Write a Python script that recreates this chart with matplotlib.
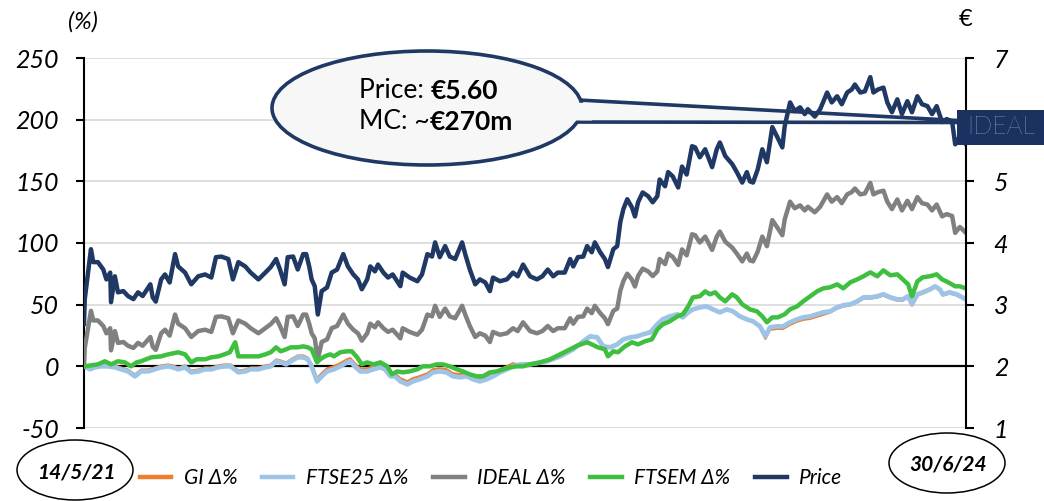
"""
IDEAL share price vs. indices, 14/5/21 - 30/6/24.
Left axis: % change (GI, FTSE25, IDEAL, FTSEM); right axis: price in EUR.
"""
import pandas as pd
import matplotlib
matplotlib.use("Agg")
import matplotlib.pyplot as plt
from matplotlib.lines import Line2D
from matplotlib.patches import Ellipse, Polygon, Rectangle

plt.rcParams["font.family"] = ["Lato", "DejaVu Sans"]
plt.rcParams["font.style"] = "italic"  # most chart text is italic

START = pd.Timestamp("2021-05-14")
END = pd.Timestamp("2024-06-30")

# ---- data (days since 14/5/21) ----
price_day = [0, 1, 9, 12, 18, 25, 29, 34, 35, 40, 44, 51, 57, 64, 70, 76, 86, 89, 93, 100,
             105, 111, 118, 122, 131, 139, 148, 157, 165, 171, 178, 187, 193, 200, 209, 216,
             226, 235, 242, 249, 254, 260, 264, 271, 277, 284, 288, 292, 295, 299, 303, 308,
             315, 321, 328, 336, 342, 349, 355, 360, 367, 371, 377, 381, 388, 394, 400, 410,
             413, 422, 432, 438, 445, 451, 455, 461, 468, 474, 481, 490, 494, 500, 507, 513,
             520, 526, 530, 539, 548, 556, 562, 569, 578, 587, 594, 601, 608, 614, 623, 630,
             634, 640, 647, 652, 658, 662, 669, 675, 679, 686, 691, 695, 699, 704, 710, 714,
             718, 724, 731, 737, 743, 746, 753, 757, 763, 770, 775, 781, 788, 792, 798, 805,
             814, 820, 824, 831, 840, 846, 853, 859, 863, 867, 873, 879, 885, 892, 898, 905,
             908, 915, 921, 928, 934, 938, 947, 954, 963, 969, 976, 982, 989, 995, 999, 1006,
             1012, 1019, 1023, 1029, 1036, 1041, 1047, 1054, 1060, 1067, 1073, 1080, 1086,
             1093, 1099, 1105, 1112, 1118, 1125, 1129, 1135, 1140, 1143]
price_eur = [2.69, 3.09, 3.90, 3.69, 3.69, 3.57, 3.41, 3.52, 3.04, 3.46, 3.20, 3.22, 3.14, 3.09,
             3.20, 3.14, 3.33, 3.12, 3.05, 3.41, 3.49, 3.36, 3.82, 3.62, 3.52, 3.33, 3.46, 3.49,
             3.44, 3.77, 3.78, 3.74, 3.41, 3.69, 3.62, 3.52, 3.41, 3.52, 3.61, 3.74, 3.57, 3.33,
             3.77, 3.78, 3.57, 3.82, 3.82, 3.61, 3.41, 3.30, 2.84, 3.22, 3.28, 3.52, 3.57, 3.82,
             3.62, 3.49, 3.41, 3.25, 3.41, 3.62, 3.54, 3.65, 3.52, 3.44, 3.49, 3.30, 3.52, 3.44,
             3.38, 3.49, 3.82, 3.78, 4.01, 3.77, 3.95, 3.78, 3.74, 4.01, 3.82, 3.57, 3.33, 3.41,
             3.36, 3.22, 3.44, 3.38, 3.41, 3.52, 3.46, 3.65, 3.46, 3.41, 3.46, 3.57, 3.46, 3.52,
             3.52, 3.74, 3.62, 3.77, 3.78, 3.95, 3.85, 4.01, 3.85, 3.74, 3.61, 3.90, 3.95, 4.34,
             4.55, 4.71, 4.58, 4.43, 4.66, 4.82, 4.76, 4.66, 4.76, 5.03, 4.92, 5.15, 5.08, 4.90,
             5.24, 5.11, 5.57, 5.55, 5.39, 5.52, 5.23, 5.52, 5.63, 5.41, 5.28, 5.15, 4.98, 5.15,
             5.00, 4.98, 5.19, 5.52, 5.31, 5.88, 5.73, 5.55, 5.89, 6.28, 6.14, 6.20, 6.09, 6.17,
             6.05, 6.17, 6.44, 6.28, 6.38, 6.25, 6.44, 6.49, 6.57, 6.44, 6.46, 6.69, 6.44, 6.49,
             6.52, 6.28, 6.12, 6.33, 6.09, 6.30, 6.12, 6.38, 6.25, 6.22, 6.09, 6.22, 5.96, 6.01,
             5.97, 5.60, 5.73, 5.65, 5.60]
ideal_pct = [0, 14.9, 45.0, 37.2, 37.2, 32.7, 26.8, 30.9, 13.0, 28.6, 19.0, 19.7, 16.7, 14.9,
             19.0, 16.7, 23.8, 16.0, 13.4, 26.8, 29.7, 24.9, 42.0, 34.6, 30.9, 23.8, 28.6, 29.7,
             27.9, 40.1, 40.5, 39.0, 26.8, 37.2, 34.6, 30.9, 26.8, 30.9, 34.2, 39.0, 32.7, 23.8,
             40.1, 40.5, 32.7, 42.0, 42.0, 34.2, 26.8, 22.7, 5.6, 19.7, 21.9, 30.9, 32.7, 42.0,
             34.6, 29.7, 26.8, 20.8, 26.8, 34.6, 31.6, 35.7, 30.9, 27.9, 29.7, 22.7, 30.9, 27.9,
             25.6, 29.7, 42.0, 40.5, 49.1, 40.1, 46.8, 40.5, 39.0, 49.1, 42.0, 32.7, 23.8, 26.8,
             24.9, 19.7, 27.9, 25.6, 26.8, 30.9, 28.6, 35.7, 28.6, 26.8, 28.6, 32.7, 28.6, 30.9,
             30.9, 39.0, 34.6, 40.1, 40.5, 46.8, 43.1, 49.1, 43.1, 39.0, 34.2, 45.0, 46.8, 61.3,
             69.1, 75.1, 70.3, 64.7, 73.2, 79.2, 77.0, 73.2, 77.0, 87.0, 82.9, 91.4, 88.8, 82.2,
             94.8, 90.0, 107.1, 106.3, 100.4, 105.2, 94.4, 105.2, 109.3, 101.1, 96.3, 91.4, 85.1,
             91.4, 85.9, 85.1, 92.9, 105.2, 97.4, 118.6, 113.0, 106.3, 119.0, 133.5, 128.2, 130.5,
             126.4, 129.4, 124.9, 129.4, 139.4, 133.5, 137.2, 132.3, 139.4, 141.3, 144.2, 139.4,
             140.2, 148.7, 139.4, 141.3, 142.4, 133.5, 127.5, 135.3, 126.4, 134.2, 127.5, 137.2,
             132.3, 131.2, 126.4, 131.2, 121.6, 123.4, 121.9, 108.2, 113.0, 110.0, 108.2]

ftsem_day = [0, 18, 27, 35, 44, 53, 61, 68, 74, 87, 100, 109, 122, 131, 139, 146, 157, 165, 174,
             182, 189, 196, 200, 209, 216, 226, 235, 242, 249, 255, 262, 268, 277, 284, 290, 295,
             302, 306, 312, 319, 324, 332, 341, 347, 354, 360, 367, 375, 384, 393, 399, 406, 413,
             422, 432, 439, 448, 457, 465, 474, 483, 491, 500, 509, 517, 526, 535, 543, 552, 561,
             569, 578, 591, 604, 617, 630, 640, 652, 658, 666, 675, 679, 686, 692, 701, 710, 718,
             727, 736, 743, 750, 759, 769, 776, 783, 789, 798, 805, 811, 818, 824, 831, 840, 846,
             853, 859, 863, 872, 879, 885, 892, 899, 908, 915, 924, 932, 941, 950, 958, 967, 976,
             984, 993, 1002, 1010, 1019, 1028, 1036, 1045, 1054, 1061, 1068, 1073, 1080, 1087,
             1096, 1105, 1112, 1120, 1129, 1135, 1143]
ftsem_pct = [0, 1.6, 4.1, 1.6, 4.1, 3.2, 0, 3.2, 4.1, 7.3, 8.1, 9.7, 11.4, 9.7, 3.2, 5.7, 5.7,
             7.3, 8.1, 9.7, 11.4, 19.5, 8.1, 8.1, 8.1, 8.1, 9.7, 11.4, 15.4, 12.2, 13.8, 15.4,
             15.4, 16.2, 15.4, 13.8, 3.2, 5.7, 8.1, 9.7, 8.1, 11.4, 12.2, 12.2, 7.3, 1.6, 3.2,
             1.6, 3.2, 0, -6.5, -4.1, -4.9, -4.1, -2.4, 0, 0, 1.6, 1.6, 0, -2.4, -4.1, -6.5, -8.1,
             -8.1, -4.9, -4.1, -2.4, -0.8, 0, 0, 1.6, 3.2, 5.7, 9.7, 13.8, 17.0, 19.5, 17.8, 15.4,
             13.8, 8.1, 12.2, 11.4, 16.2, 19.5, 17.8, 20.3, 21.9, 30.0, 34.1, 36.5, 40.5, 42.2,
             48.6, 55.9, 56.8, 60.8, 58.4, 60.0, 55.9, 52.7, 58.4, 55.9, 50.3, 47.8, 46.2, 44.6,
             40.5, 35.7, 39.7, 39.7, 42.2, 46.2, 48.6, 52.7, 56.8, 60.8, 63.2, 64.1, 66.5, 63.2,
             68.1, 70.5, 73.0, 76.2, 73.0, 77.8, 73.8, 74.6, 70.5, 66.5, 56.8, 68.9, 72.2, 73.0,
             74.6, 70.5, 68.1, 64.9, 64.9, 63.2]

ftse25_day = [0, 8, 14, 22, 31, 40, 48, 57, 66, 74, 83, 92, 100, 109, 115, 122, 131, 139, 148,
              157, 165, 174, 182, 190, 200, 209, 216, 226, 235, 242, 249, 255, 262, 268, 277, 284,
              290, 295, 302, 308, 315, 324, 332, 341, 345, 351, 358, 367, 375, 384, 390, 397, 403,
              410, 419, 426, 435, 445, 452, 461, 470, 478, 487, 496, 504, 513, 522, 530, 539, 548,
              556, 565, 578, 600, 617, 634, 647, 656, 665, 673, 682, 691, 699, 708, 717, 724, 734,
              743, 750, 759, 769, 776, 783, 789, 798, 807, 815, 824, 833, 841, 850, 859, 867, 876,
              883, 889, 898, 906, 915, 924, 932, 941, 950, 958, 967, 976, 984, 993, 1002, 1010,
              1019, 1028, 1036, 1045, 1054, 1061, 1068, 1073, 1080, 1087, 1096, 1103, 1109, 1113,
              1122, 1131, 1143]
ftse25_pct = [0, -2.4, -0.8, 0, 0, -0.8, -2.4, -4.1, -8.1, -4.1, -4.1, -2.4, -0.8, 0, -0.8, -2.4,
              -0.8, -4.9, -4.1, -2.4, -2.4, -0.8, 0, 0, -4.9, -4.1, -2.4, -2.4, -0.8, 0, 4.1, 3.2,
              1.6, 4.1, 7.3, 7.3, 5.7, 0, -12.2, -8.1, -4.1, -2.4, 0, 3.2, 4.1, 0, -4.1, -4.1, -2.4,
              -0.8, -2.4, -8.1, -8.1, -12.2, -14.6, -12.2, -10.5, -8.1, -4.9, -4.1, -4.9, -8.1,
              -8.9, -8.1, -10.5, -12.2, -10.5, -8.1, -4.9, -2.4, 0, 1.6, 1.6, 4.1, 8.1, 13.8, 20.3,
              24.3, 23.5, 16.2, 15.4, 17.8, 21.9, 23.5, 24.3, 25.9, 27.6, 34.1, 38.1, 40.5, 42.2,
              39.7, 43.8, 46.2, 47.8, 48.6, 46.2, 43.8, 46.2, 44.6, 40.5, 38.1, 36.5, 32.4, 24.3,
              31.6, 32.4, 32.4, 35.7, 38.1, 39.7, 40.5, 42.2, 43.8, 44.6, 47.8, 49.5, 50.3, 52.7,
              55.9, 55.9, 56.8, 58.4, 55.9, 54.3, 54.3, 56.8, 50.3, 58.4, 60.0, 62.4, 64.9, 62.4,
              58.4, 60.0, 58.4, 54.3]
gi_pct = [0, -1.0, 0.6, 1.5, 1.5, 0.7, -0.9, -2.6, -6.6, -2.6, -2.6, -0.9, 0.7, 1.5, 0.7, -0.9,
          0.7, -3.4, -2.6, -0.9, -0.9, 0.7, 1.5, 1.5, -3.4, -2.6, -0.9, -0.9, 0.7, 1.5, 5.6, 4.7,
          3.1, 5.6, 8.8, 8.8, 7.2, 1.5, -9.7, -5.6, -1.6, 0.1, 2.5, 5.7, 6.6, 2.5, -1.6, -1.6, 0.1,
          1.7, 0.1, -5.6, -5.6, -9.7, -12.1, -9.7, -8.0, -5.6, -2.4, -1.6, -2.4, -5.6, -6.4, -5.6,
          -8.0, -9.7, -8.0, -5.6, -2.4, 0.1, 2.5, 1.1, 1.1, 3.6, 7.6, 13.3, 19.8, 23.8, 23.0, 15.7,
          14.9, 17.3, 21.4, 23.0, 23.8, 25.4, 27.1, 33.6, 37.6, 40.0, 41.7, 39.2, 43.3, 45.7, 47.3,
          48.1, 45.7, 43.3, 45.7, 44.1, 40.0, 37.6, 36.0, 31.9, 22.3, 29.6, 30.4, 30.4, 33.7, 36.1,
          37.7, 38.5, 40.2, 41.8, 43.6, 46.8, 48.5, 49.3, 51.7, 54.9, 54.9, 55.8, 57.4, 54.9, 53.3,
          53.3, 55.8, 49.3, 57.4, 59.0, 61.4, 63.9, 61.4, 57.4, 59.0, 57.4, 53.3]

pct_ticks = [-50, 0, 50, 100, 150, 200, 250]
eur_ticks = [1, 2, 3, 4, 5, 6, 7]
eur_tick_labels = ["1", "2", "3", "4", "5", "", "7"]  # "6" sits under the logo
legend_labels = ["GI Δ%", "FTSE25 Δ%", "IDEAL Δ%", "FTSEM Δ%", "Price"]

NAVY = "#1f3864"
GREY = "#808080"
GREEN = "#3fbf3f"
LBLUE = "#9dc3e6"
ORANGE = "#ed7d31"
W, H = 1044, 501


def to_dates(days):
    return START + pd.to_timedelta(days, unit="D")


def fx(px):
    return px / W


def fy(py):
    return 1 - py / H


fig = plt.figure(figsize=(W / 100, H / 100), dpi=100)
ax = fig.add_axes([fx(84), fy(428), (966 - 84) / W, (428 - 58) / H])
ax2 = ax.twinx()

ax.plot(to_dates(ftse25_day), gi_pct, color=ORANGE, lw=1.6, zorder=3)
ax.plot(to_dates(ftse25_day), ftse25_pct, color=LBLUE, lw=3.4, zorder=4)
ax.plot(to_dates(price_day), ideal_pct, color=GREY, lw=3.2, zorder=5)
ax.plot(to_dates(ftsem_day), ftsem_pct, color=GREEN, lw=3.2, zorder=6)
ax2.plot(to_dates(price_day), price_eur, color=NAVY, lw=3.2)

ax.set_xlim(START, END)
ax.set_ylim(-50, 250)
ax2.set_ylim(1, 7)
ax.set_yticks(pct_ticks, labels=[str(v) for v in pct_ticks])
ax2.set_yticks(eur_ticks, labels=eur_tick_labels)
ax.set_xticks([])
ax.yaxis.grid(True, color="#d9d9d9", lw=1.2)
ax.set_axisbelow(True)
ax.axhline(0, color="black", lw=1.6, zorder=2)

for s in ["top", "bottom", "right"]:
    ax.spines[s].set_visible(False)
for s in ["top", "bottom", "left"]:
    ax2.spines[s].set_visible(False)
ax.spines["left"].set_linewidth(1.5)
ax2.spines["right"].set_linewidth(1.5)
ax.tick_params(axis="y", direction="out", length=6, width=1.5, pad=12, labelsize=18)
ax2.tick_params(axis="y", direction="out", length=6, width=1.5, pad=14, labelsize=18)

fig.text(fx(83), fy(22), "(%)", ha="center", va="center", fontsize=17)
fig.text(fx(966), fy(20), "€", ha="center", va="center", fontsize=17, style="normal")

# callout bubble
tf = fig.transFigure
tail = Polygon([(fx(560), fy(99)), (fx(958), fy(120.5)), (fx(958), fy(122.5)), (fx(560), fy(122))],
               closed=True, facecolor="#f7f7f7", edgecolor=NAVY, lw=2.6, transform=tf,
               clip_on=False, zorder=2.4)
bubble = Ellipse((fx(427), fy(108)), 310 / W, 114 / H, facecolor="#f7f7f7", edgecolor=NAVY,
                 lw=2.6, transform=tf, clip_on=False, zorder=2.5)
cover = Polygon([(fx(565), fy(102.5)), (fx(592), fy(103)), (fx(592), fy(120.5)), (fx(565), fy(120.5))],
                closed=True, facecolor="#f7f7f7", edgecolor="none", transform=tf,
                clip_on=False, zorder=2.6)
for p in (tail, bubble, cover):
    ax.add_patch(p)

t1 = ax.text(fx(359), fy(98), "Price: ", transform=tf, fontsize=19, va="baseline",
             style="normal", zorder=2.7)
ax.annotate("€5.60", xy=(1, 0), xycoords=t1, va="bottom", fontsize=19, fontweight="bold",
            style="normal", zorder=2.7)
t2 = ax.text(fx(359), fy(129), "MC: ~", transform=tf, fontsize=19, va="baseline",
             style="normal", zorder=2.7)
ax.annotate("€270m", xy=(1, 0), xycoords=t2, va="bottom", fontsize=19, fontweight="bold",
            style="normal", zorder=2.7)

# IDEAL logo
fig.add_artist(Rectangle((fx(957), fy(145)), 87 / W, 35 / H, facecolor="#1b3260",
                         edgecolor="none", transform=tf, zorder=5))
fig.text(fx(1001), fy(127), "IDEAL", ha="center", va="center", fontsize=18, style="normal",
         color="#cfdbe8", fontweight="light", zorder=6)

# date ovals
for cx, cy, label in [(75, 470, "14/5/21"), (947, 463, "30/6/24")]:
    fig.add_artist(Ellipse((fx(cx), fy(cy)), 116 / W, 60 / H, facecolor="white",
                           edgecolor="black", lw=1.1, transform=tf))
    fig.text(fx(cx + 1), fy(cy + 2), label, ha="center", va="center", fontsize=15,
             fontweight="bold")

handles = [Line2D([], [], color=c, lw=3.2) for c in (ORANGE, LBLUE, GREY, GREEN, NAVY)]
fig.legend(handles, legend_labels, loc="center", bbox_to_anchor=(fx(491), fy(478)), ncol=5,
           frameon=False, prop={"size": 15}, handlelength=1.5,
           handletextpad=0.6, columnspacing=1.2)

fig.savefig("out.png", dpi=100)
